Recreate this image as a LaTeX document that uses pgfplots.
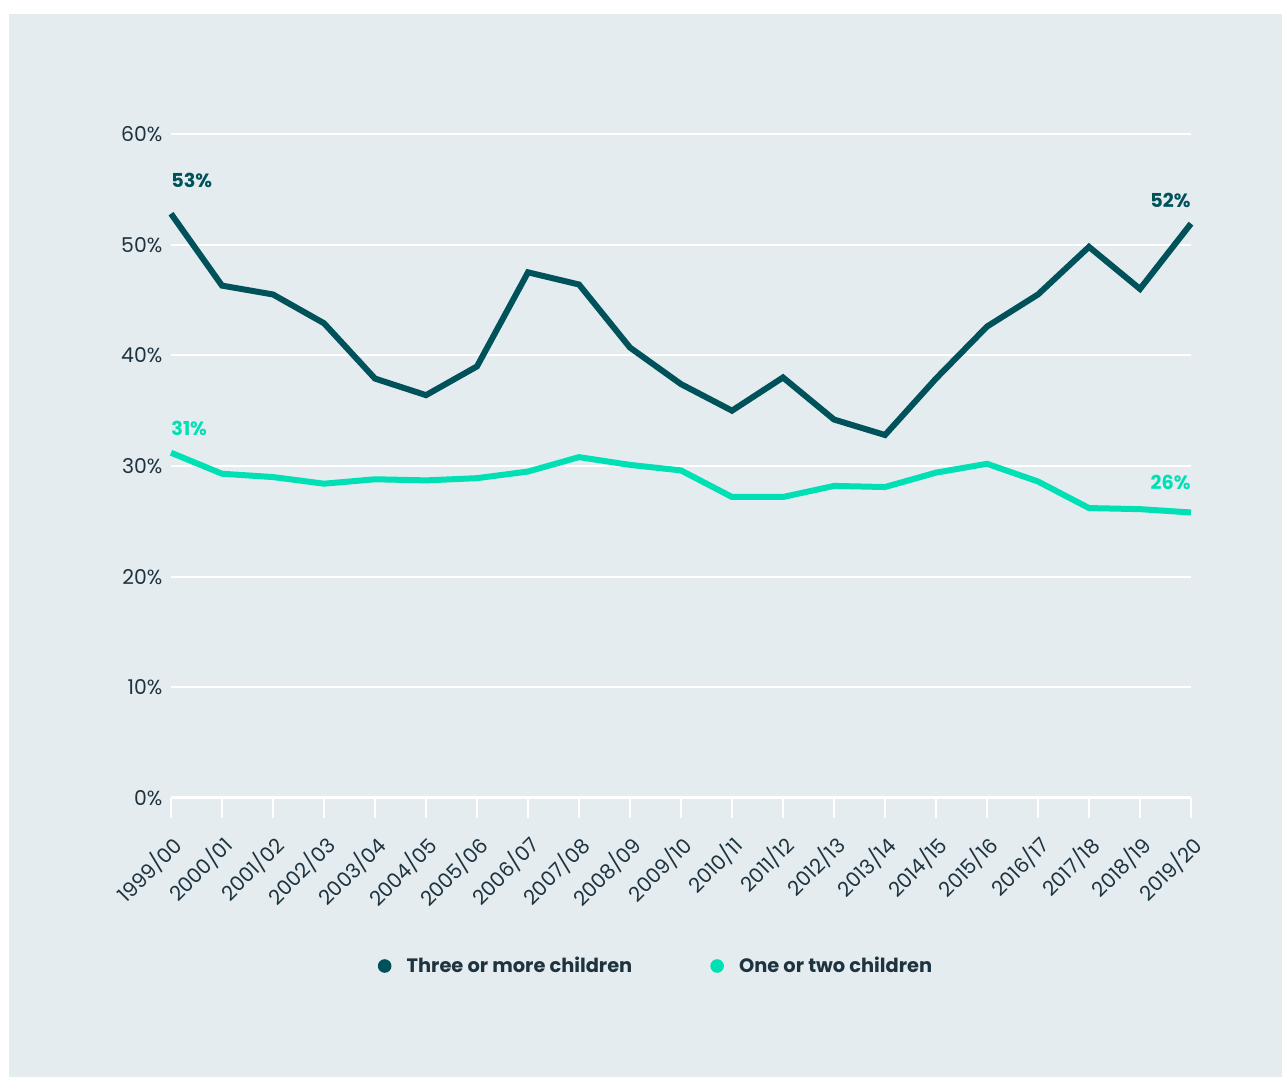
\documentclass[border=0pt]{standalone}
\usepackage{pgfplots}
\pgfplotsset{compat=1.18}
\usepackage{fontspec}
\setmainfont{Poppins}
\definecolor{bg}{HTML}{E4ECEF}
\definecolor{dark}{HTML}{00525A}
\definecolor{mint}{HTML}{00E0B4}
\definecolor{txt}{HTML}{1E3340}

\pgfplotstableread{
x y
0 52.8
1 46.3
2 45.5
3 42.9
4 37.9
5 36.4
6 39.0
7 47.5
8 46.4
9 40.7
10 37.4
11 35.0
12 38.0
13 34.2
14 32.8
15 37.9
16 42.6
17 45.5
18 49.8
19 46.0
20 51.9
}\three

\pgfplotstableread{
x y
0 31.2
1 29.3
2 29.0
3 28.4
4 28.8
5 28.7
6 28.9
7 29.5
8 30.8
9 30.1
10 29.6
11 27.2
12 27.2
13 28.2
14 28.1
15 29.4
16 30.2
17 28.6
18 26.2
19 26.1
20 25.8
}\onetwo

\begin{document}
\begin{tikzpicture}[x=1pt,y=1pt]
\useasboundingbox (0,0) rectangle (641,538.5);
\fill[white] (0,0) rectangle (641,538.5);
\fill[bg] (4.5,0) rectangle (641,531.5);
\begin{axis}[
  at={(85.5pt,139.5pt)}, anchor=south west,
  scale only axis, width=510pt, height=332pt,
  xmin=0, xmax=20, ymin=0, ymax=60,
  axis x line*=bottom, axis y line*=left,
  y axis line style={draw=none},
  x axis line style={white, line width=1.5pt},
  major y tick style={draw=none},
  major x tick style={white, line width=1pt},
  tick align=outside, major tick length=10pt,
  ymajorgrids, grid style={white, line width=1pt},
  xtick={0,...,20},
  xticklabels={1999/00,2000/01,2001/02,2002/03,2003/04,2004/05,2005/06,2006/07,2007/08,2008/09,2009/10,2010/11,2011/12,2012/13,2013/14,2014/15,2015/16,2016/17,2017/18,2018/19,2019/20},
  ytick={0,10,...,60},
  yticklabel={\pgfmathprintnumber{\tick}\%},
  /pgf/number format/assume math mode=true,
  tick label style={font=\fontsize{10.2}{12}\selectfont, text=txt},
  yticklabel style={xshift=9.2pt},
  xticklabel style={anchor=north east, inner sep=1pt, xshift=-0.5pt, yshift=-6pt, rotate=45},
  legend style={at={(0.4765,-0.253)}, anchor=center, draw=none, fill=none,
    legend columns=2, font=\bfseries\fontsize{9.7}{11}\selectfont, text=txt,
    /tikz/every even column/.append style={column sep=37pt}},
  legend image code/.code={\path[draw=none,fill=none] (-3.3pt,0pt) -- (9pt,0pt); \fill[#1, draw=none] (0pt,0pt) circle (3.4pt);},
  clip=false,
]
\addplot[color=dark, line width=3pt] table[x=x,y=y] {\three};
\addlegendentry{Three or more children}
\addplot[color=mint, line width=3pt] table[x=x,y=y] {\onetwo};
\addlegendentry{One or two children}
\node[anchor=west, inner sep=0pt, font=\bfseries\fontsize{9.6}{11}\selectfont, text=dark] at (axis cs:0,55.8) {53\%};
\node[anchor=west, inner sep=0pt, font=\bfseries\fontsize{9.6}{11}\selectfont, text=mint] at (axis cs:0,33.4) {31\%};
\node[anchor=east, inner sep=0pt, font=\bfseries\fontsize{9.6}{11}\selectfont, text=dark] at (axis cs:20,54.0) {52\%};
\node[anchor=east, inner sep=0pt, font=\bfseries\fontsize{9.6}{11}\selectfont, text=mint] at (axis cs:20,28.5) {26\%};
\end{axis}
\end{tikzpicture}
\end{document}
